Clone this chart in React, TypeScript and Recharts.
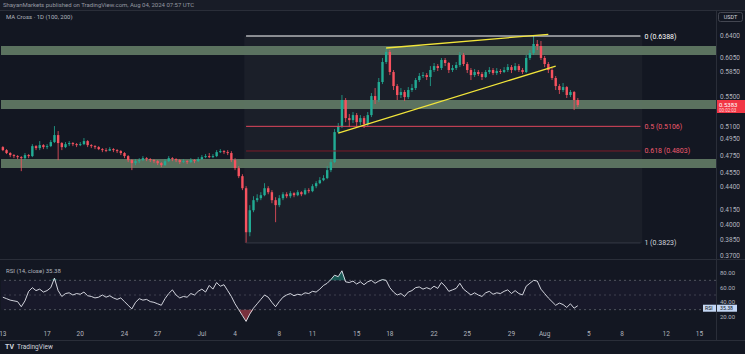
import { ComposedChart, Bar, Line, Area, XAxis, YAxis, ReferenceArea, ReferenceLine } from "recharts"

const W = 745
const BG = "#131722"
const AXIS_TEXT = "#b2b5be"
const FONT = "Roboto, 'Noto Sans', sans-serif"
const UP = "#22ab94"
const DOWN = "#f7525f"

// XRP/USDT, one candle per 8 hours from Jun 13 2024 00:00 UTC
const firstOpen = 0.4849
const closes = [
  0.4813, 0.4778, 0.4754, 0.4742, 0.473, 0.4718, 0.4754, 0.4742, 0.4861, 0.4837,
  0.4873, 0.4849, 0.4861, 0.491, 0.4996, 0.4898, 0.4849, 0.4885, 0.4898, 0.4885,
  0.4873, 0.4885, 0.4922, 0.4873, 0.4861, 0.4849, 0.4825, 0.4813, 0.4806, 0.4825,
  0.4813, 0.4801, 0.4778, 0.4742, 0.4695, 0.466, 0.4683, 0.4695, 0.4718, 0.4707,
  0.4695, 0.4683, 0.466, 0.4637, 0.4683, 0.4718, 0.4707, 0.4695, 0.4672, 0.4683,
  0.4672, 0.4695, 0.4683, 0.4707, 0.473, 0.4742, 0.473, 0.4742, 0.4789, 0.4801,
  0.4789, 0.4778, 0.4695, 0.4603, 0.4512, 0.4379, 0.3926, 0.4146, 0.4251, 0.4272,
  0.4304, 0.4379, 0.4336, 0.4251, 0.4199, 0.4272, 0.4314, 0.4293, 0.4325, 0.4304,
  0.4336, 0.4314, 0.4358, 0.4347, 0.4401, 0.4434, 0.4467, 0.449, 0.458, 0.4672,
  0.5033, 0.5109, 0.545, 0.5211, 0.5185, 0.525, 0.5159, 0.5211, 0.5134, 0.525,
  0.5504, 0.545, 0.5699, 0.5989, 0.614, 0.5842, 0.5642, 0.5518, 0.5559, 0.549,
  0.5587, 0.5614, 0.5727, 0.5784, 0.5798, 0.577, 0.5871, 0.5929, 0.59, 0.6019,
  0.5974, 0.5871, 0.59, 0.5944, 0.6094, 0.5959, 0.5871, 0.5798, 0.5842, 0.5813,
  0.577, 0.5842, 0.5871, 0.5827, 0.5856, 0.5842, 0.5871, 0.5914, 0.5871, 0.5929,
  0.5871, 0.5842, 0.6049, 0.6125, 0.6262, 0.6231, 0.6049, 0.5959, 0.5871, 0.5756,
  0.5642, 0.5587, 0.5628, 0.5518, 0.5559, 0.545, 0.5383,
]
const highs = [
  0.4861, 0.4825, 0.4789, 0.4766, 0.4754, 0.4742, 0.4778, 0.4766, 0.4885, 0.4873,
  0.4922, 0.4885, 0.4885, 0.4934, 0.5109, 0.5046, 0.491, 0.491, 0.4922, 0.491,
  0.4898, 0.491, 0.4959, 0.4934, 0.4885, 0.4873, 0.4861, 0.4837, 0.4837, 0.4849,
  0.4837, 0.4825, 0.4813, 0.4789, 0.4754, 0.4707, 0.4707, 0.4718, 0.4742, 0.473,
  0.4718, 0.4707, 0.4695, 0.4672, 0.4707, 0.4742, 0.473, 0.4718, 0.4707, 0.4707,
  0.4695, 0.4718, 0.4707, 0.473, 0.4754, 0.4766, 0.4778, 0.4766, 0.4813, 0.4825,
  0.4813, 0.4813, 0.4801, 0.4718, 0.4626, 0.4534, 0.4401, 0.4199, 0.4293, 0.4314,
  0.4336, 0.4434, 0.4401, 0.4358, 0.4282, 0.4304, 0.4336, 0.4336, 0.4347, 0.4336,
  0.4358, 0.4347, 0.4379, 0.4379, 0.4423, 0.4456, 0.4501, 0.4523, 0.4626, 0.4707,
  0.5071, 0.5147, 0.5518, 0.5477, 0.5264, 0.529, 0.5277, 0.525, 0.5237, 0.529,
  0.5545, 0.5614, 0.5756, 0.6049, 0.6201, 0.617, 0.5871, 0.567, 0.5614, 0.5587,
  0.5628, 0.567, 0.5756, 0.5827, 0.5842, 0.5827, 0.5929, 0.5974, 0.5959, 0.6049,
  0.6049, 0.5989, 0.5944, 0.5989, 0.614, 0.6125, 0.5989, 0.59, 0.5885, 0.5871,
  0.5842, 0.5871, 0.5914, 0.59, 0.59, 0.5885, 0.5914, 0.5959, 0.5944, 0.5974,
  0.5959, 0.59, 0.6094, 0.617, 0.6388, 0.6325, 0.6309, 0.6079, 0.5989, 0.59,
  0.5784, 0.567, 0.5685, 0.5642, 0.5587, 0.5573, 0.5477,
]
const lows = [
  0.4801, 0.4766, 0.473, 0.4718, 0.4707, 0.4568, 0.4695, 0.4718, 0.473, 0.4813,
  0.4813, 0.4825, 0.4825, 0.4849, 0.4898, 0.4695, 0.4813, 0.4837, 0.4861, 0.4861,
  0.4849, 0.4861, 0.4873, 0.4849, 0.4837, 0.4825, 0.4813, 0.4789, 0.4789, 0.4801,
  0.4789, 0.4778, 0.4754, 0.4718, 0.4672, 0.458, 0.4637, 0.466, 0.4683, 0.4683,
  0.4672, 0.466, 0.4637, 0.4614, 0.4626, 0.4672, 0.4683, 0.4672, 0.4649, 0.466,
  0.4649, 0.466, 0.466, 0.4672, 0.4695, 0.4718, 0.4718, 0.4718, 0.473, 0.4778,
  0.4766, 0.4754, 0.4672, 0.458, 0.449, 0.4358, 0.3823, 0.3887, 0.4126, 0.423,
  0.4251, 0.4293, 0.4314, 0.4219, 0.4025, 0.4178, 0.4251, 0.4272, 0.4272, 0.4282,
  0.4293, 0.4293, 0.4304, 0.4325, 0.4336, 0.4379, 0.4423, 0.4456, 0.4478, 0.4557,
  0.466, 0.5021, 0.5084, 0.5159, 0.5096, 0.5147, 0.5096, 0.5122, 0.5084, 0.5109,
  0.5224, 0.5396, 0.5423, 0.567, 0.5959, 0.5798, 0.5587, 0.545, 0.5477, 0.5436,
  0.5463, 0.5559, 0.5587, 0.5699, 0.5756, 0.5727, 0.5642, 0.5842, 0.5856, 0.5871,
  0.5929, 0.5827, 0.5842, 0.5871, 0.5914, 0.5929, 0.5827, 0.5727, 0.577, 0.5784,
  0.5727, 0.5756, 0.5813, 0.5798, 0.5798, 0.5813, 0.5827, 0.5842, 0.5827, 0.5856,
  0.5842, 0.5813, 0.5827, 0.6019, 0.6094, 0.617, 0.6019, 0.5914, 0.5827, 0.5727,
  0.5587, 0.5532, 0.5559, 0.5477, 0.549, 0.5316, 0.5356,
]
const rsiValues = [
  47, 45, 43, 42, 41, 34, 42, 55, 60, 56,
  58, 54, 56, 60, 73, 56, 48, 52, 53, 50,
  52, 51, 54, 49, 48, 46, 47, 50, 47, 49,
  46, 44, 46, 41, 36, 31, 40, 45, 43, 44,
  41, 40, 38, 36, 45, 52, 57, 50, 46, 48,
  47, 52, 50, 55, 58, 54, 63, 58, 67, 62,
  64, 56, 48, 38, 30, 22, 14, 24, 32, 38,
  44, 50, 47, 40, 34, 41, 47, 50, 52, 49,
  51, 50, 53, 52, 55, 54, 58, 63, 66, 71,
  77, 75, 83, 68, 67, 69, 65, 68, 64, 68,
  70, 66, 69, 71, 70, 60, 54, 50, 52, 48,
  54, 56, 60, 61, 58, 60, 58, 62, 59, 67,
  62, 55, 57, 59, 66, 58, 54, 50, 53, 50,
  48, 53, 55, 51, 53, 52, 55, 57, 52, 56,
  52, 50, 62, 66, 70, 69, 58, 52, 46, 41,
  36, 39, 37, 33, 38, 32, 35.38,
]
// empty 8h slots to the right of the last candle (up to Aug 16)
const emptySlots = 37

const dateTickIdx = [0, 12, 21, 33, 42, 54, 63, 75, 84, 96, 105, 117, 126, 138, 147, 159, 168, 180, 189]
const dateTickText = ["13", "17", "20", "24", "27", "Jul", "4", "8", "11", "15", "18", "22", "25", "29", "Aug", "5", "8", "12", "15"]
const priceTicks = [0.64, 0.605, 0.585, 0.565, 0.55, 0.51, 0.495, 0.475, 0.455, 0.44, 0.425, 0.415, 0.4, 0.385, 0.37]
const rsiTicks = [20, 40, 60, 80]

// support / resistance boxes [bottom, top]
const zones = [
  [0.6094, 0.6231],
  [0.5329, 0.545],
  [0.4603, 0.4707],
]
const fibHigh = 0.6388
const fibLow = 0.3823
const fibFrom = 66
const fibTo = 173
const fibLevels = [0, 0.5, 0.618, 1]
const fibStroke = ["#ffffff", "#e0465c", "#7d1a28", "#363a45"]
const fibText = ["#ffffff", "#f05a6e", "#f05a6e", "#d1d4dc"]

const upperTrend = [{ x: 104, y: 0.6201 }, { x: 148, y: 0.6415 }]
const lowerTrend = [{ x: 91, y: 0.5021 }, { x: 150, y: 0.5929 }]

const rows = Array.from({ length: closes.length + emptySlots }, (_, i) => {
  if (i >= closes.length) return { i, range: null, rsi: null }
  const o = i === 0 ? firstOpen : closes[i - 1]
  const c = closes[i]
  const h = Math.max(highs[i], o, c)
  const l = Math.min(lows[i], o, c)
  return { i, o, h, l, c, range: [l, h], rsi: rsiValues[i] }
})

const lastClose = closes[closes.length - 1]
const lastRsi = rsiValues[rsiValues.length - 1]

function Candle(props: any) {
  const { x, y, width, height, payload } = props
  if (!payload || payload.c == null || !isFinite(y) || !isFinite(height)) return null
  const top = Math.min(y, y + height)
  const bottom = Math.max(y, y + height)
  const span = Math.log(payload.h / payload.l)
  const toY = (p: number) => (span > 0 ? top + ((bottom - top) * Math.log(payload.h / p)) / span : top)
  const color = payload.c >= payload.o ? UP : DOWN
  const cx = x + width / 2
  const yo = toY(payload.o)
  const yc = toY(payload.c)
  const bodyTop = Math.min(yo, yc)
  const bodyH = Math.max(0.8, Math.abs(yc - yo))
  return (
    <g>
      <line x1={cx} x2={cx} y1={top} y2={bottom} stroke={color} strokeWidth={0.8} />
      <rect x={cx - 1.2} y={bodyTop} width={2.4} height={bodyH} fill={color} />
    </g>
  )
}

function FibLabel(props: any) {
  const { viewBox, text, color } = props
  if (!viewBox) return null
  return (
    <text x={viewBox.x + viewBox.width + 4} y={viewBox.y + 2.5} fill={color} fontSize={7} fontFamily={FONT}>
      {text}
    </text>
  )
}

function PriceTag(props: any) {
  const { viewBox, value } = props
  if (!viewBox) return null
  const x = viewBox.x + viewBox.width
  const y = viewBox.y
  return (
    <g>
      <rect x={x} y={y - 5} width={29} height={13} fill="#f23645" />
      <text x={x + 3} y={y + 1.5} fill="#ffffff" fontSize={6} fontFamily={FONT}>
        {value.toFixed(4)}
      </text>
      <text x={x + 3} y={y + 6.8} fill="#ffd6da" fontSize={4.5} fontFamily={FONT}>
        00:02:03
      </text>
    </g>
  )
}

function RsiTag(props: any) {
  const { viewBox, value } = props
  if (!viewBox) return null
  const x = viewBox.x + viewBox.width
  const y = viewBox.y
  return (
    <g>
      <rect x={x - 13} y={y - 1} width={34} height={7} fill="#c3d6f4" />
      <text x={x - 11} y={y + 4.4} fill="#131722" fontSize={5.2} fontFamily={FONT}>RSI</text>
      <text x={x + 4} y={y + 4.4} fill="#131722" fontSize={5.2} fontFamily={FONT}>{value.toFixed(2)}</text>
    </g>
  )
}

const tickStyle = { fill: AXIS_TEXT, fontSize: 6.5, fontFamily: FONT }
const rsiTickStyle = { fill: AXIS_TEXT, fontSize: 6, fontFamily: FONT }

export default function App() {
  return (
    <div style={{ position: "absolute", left: 0, top: 0, width: W, height: 354, background: BG, overflow: "hidden", fontFamily: FONT }}>
      <div style={{ position: "absolute", left: 0, top: 0 }}>
        <ComposedChart width={W} height={260} data={rows} margin={{ top: 12, right: 0, bottom: 3, left: 1 }}>
          <XAxis dataKey="i" scale="band" hide />
          <YAxis
            orientation="right"
            scale="log"
            domain={[0.3692, 0.678]}
            allowDataOverflow
            ticks={priceTicks}
            tickFormatter={(v: number) => v.toFixed(4)}
            tick={tickStyle}
            tickLine={false}
            axisLine={false}
            tickSize={0}
            tickMargin={4}
            width={29}
          />
          <ReferenceArea x1={fibFrom} x2={fibTo} y1={fibLow} y2={fibHigh} fill="#ffffff" fillOpacity={0.035} stroke="none" />
          {zones.map(([lo, hi], k) => (
            <ReferenceArea key={"z" + k} y1={lo} y2={hi} fill="#5f7763" fillOpacity={0.95} stroke="none" />
          ))}
          <Bar dataKey="range" shape={(p: any) => <Candle {...p} />} isAnimationActive={false} />
          {fibLevels.map((lvl, k) => {
            const v = fibHigh - lvl * (fibHigh - fibLow)
            return (
              <ReferenceLine
                key={"f" + k}
                segment={[{ x: fibFrom, y: v }, { x: fibTo, y: v }]}
                stroke={fibStroke[k]}
                strokeWidth={1}
                label={<FibLabel text={`${lvl} (${v.toFixed(4)})`} color={fibText[k]} />}
              />
            )
          })}
          <ReferenceLine segment={upperTrend} stroke="#f2e53a" strokeWidth={1.3} />
          <ReferenceLine segment={lowerTrend} stroke="#f2e53a" strokeWidth={1.3} />
          <ReferenceLine y={lastClose} stroke="#f23645" strokeOpacity={0} label={<PriceTag value={lastClose} />} />
        </ComposedChart>
      </div>

      <div style={{ position: "absolute", left: 0, top: 259 }}>
        <ComposedChart width={W} height={81} data={rows} margin={{ top: 3, right: 0, bottom: 0, left: 1 }}>
          <XAxis
            dataKey="i"
            scale="band"
            ticks={dateTickIdx}
            interval={0}
            tickFormatter={(v: number) => dateTickText[dateTickIdx.indexOf(v)] ?? ""}
            tick={tickStyle}
            tickLine={false}
            axisLine={false}
            tickSize={0}
            tickMargin={3}
            height={12}
          />
          <YAxis
            orientation="right"
            domain={[5, 95]}
            allowDataOverflow
            ticks={rsiTicks}
            tickFormatter={(v: number) => v.toFixed(2)}
            tick={rsiTickStyle}
            tickLine={false}
            axisLine={false}
            tickSize={0}
            tickMargin={4}
            width={29}
          />
          <ReferenceArea y1={30} y2={70} fill="#7e57c2" fillOpacity={0.05} stroke="none" />
          <ReferenceLine y={70} stroke="#787b86" strokeOpacity={0.6} strokeDasharray="2 3" />
          <ReferenceLine y={50} stroke="#787b86" strokeOpacity={0.4} strokeDasharray="2 3" />
          <ReferenceLine y={30} stroke="#787b86" strokeOpacity={0.6} strokeDasharray="2 3" />
          <Area
            type="linear"
            dataKey={(d: any) => (d.rsi == null ? null : [70, Math.max(70, d.rsi)])}
            stroke="none"
            fill={UP}
            fillOpacity={0.45}
            isAnimationActive={false}
          />
          <Area
            type="linear"
            dataKey={(d: any) => (d.rsi == null ? null : [Math.min(30, d.rsi), 30])}
            stroke="none"
            fill={DOWN}
            fillOpacity={0.45}
            isAnimationActive={false}
          />
          <Line type="linear" dataKey="rsi" stroke="#e6e9f0" strokeWidth={0.9} dot={false} isAnimationActive={false} />
          <ReferenceLine y={lastRsi} stroke="none" label={<RsiTag value={lastRsi} />} />
        </ComposedChart>
      </div>

      <svg width={W} height={354} style={{ position: "absolute", left: 0, top: 0, pointerEvents: "none" }}>
        <rect x={0} y={0} width={W} height={10} fill="#181c27" />
        <text x={3} y={7} fontSize={6} fill="#9598a1" fontFamily={FONT}>
          ShayanMarkets published on TradingView.com, Aug 04, 2024 07:57 UTC
        </text>
        <line x1={0} x2={W} y1={10.5} y2={10.5} stroke="#2a2e39" />
        <text x={6} y={19} fontSize={6} fill={AXIS_TEXT} fontFamily={FONT}>
          MA Cross · 1D (100, 200)
        </text>
        <rect x={718.5} y={12.5} width={24} height={9} rx={2} fill="none" stroke="#434651" />
        <text x={730.5} y={19} textAnchor="middle" fontSize={5.5} fill="#d1d4dc" fontFamily={FONT}>
          USDT
        </text>
        <line x1={0} x2={W} y1={259.5} y2={259.5} stroke="#2a2e39" />
        <text x={6} y={273} fontSize={6} fill={AXIS_TEXT} fontFamily={FONT}>
          RSI (14, close) 35.38
        </text>
        <line x1={716.5} x2={716.5} y1={11} y2={340} stroke="#2a2e39" />
        <line x1={0} x2={W} y1={340.5} y2={340.5} stroke="#2a2e39" />
        <text x={5} y={349} fontSize={7} fontWeight={700} fill="#d1d4dc" fontFamily={FONT}>
          TV
        </text>
        <text x={17} y={349} fontSize={6.5} fill="#d1d4dc" fontFamily={FONT}>
          TradingView
        </text>
      </svg>
    </div>
  )
}
